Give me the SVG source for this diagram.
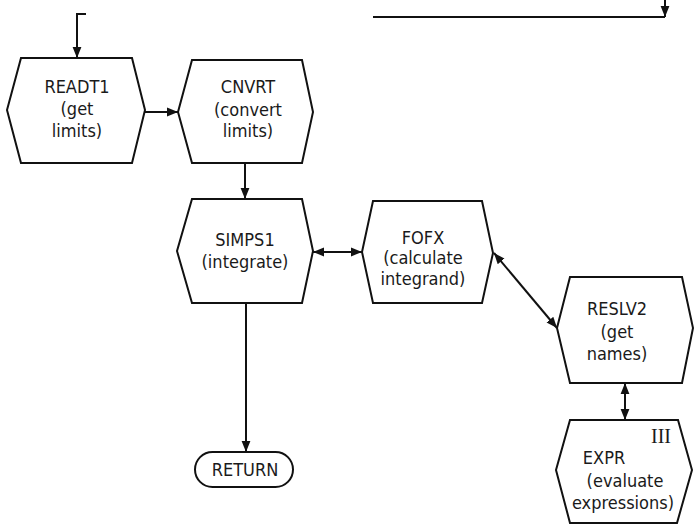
<svg xmlns="http://www.w3.org/2000/svg" width="696" height="526" viewBox="0 0 696 526">
<defs>
<marker id="ah" viewBox="0 0 10 10" refX="10" refY="5" markerWidth="5.5" markerHeight="5.5" orient="auto-start-reverse" markerUnits="strokeWidth">
<path d="M0,1 L10,5 L0,9 z" fill="#111"/>
</marker>
<style>
.n{fill:#fff;stroke:#111;stroke-width:2;stroke-linejoin:miter}
.t{font-family:"DejaVu Sans Condensed","DejaVu Sans",sans-serif;font-size:18px;fill:#1a1a1a;text-anchor:middle}
.r{font-family:"Liberation Serif",serif;font-size:20px;fill:#1a1a1a;text-anchor:middle}
.c{fill:none;stroke:#111;stroke-width:2}
.a{marker-end:url(#ah)}
.b{marker-start:url(#ah);marker-end:url(#ah)}
</style>
</defs>
<rect width="696" height="526" fill="#fff"/>
<g id="connectors">
<path class="c a" d="M86,14 L77,14 L77,58"/>
<path class="c" d="M373,17 L665,17"/>
<path class="c a" d="M665,0 L665,17"/>
<path class="c a" d="M145,112 L178,112"/>
<path class="c a" d="M245,163 L245,199"/>
<path class="c b" d="M313,252 L362,252"/>
<path class="c b" d="M494,253 L557,328"/>
<path class="c b" d="M625,383 L625,420"/>
<path class="c a" d="M246,303 L246,452"/>
</g>
<g id="READT1">
<polygon class="n" points="21,58 132,58 145,110 132,163 21,163 7,110"/>
<text class="t" x="77" y="93">READT1</text>
<text class="t" x="77" y="115">(get</text>
<text class="t" x="77" y="137">limits)</text>
</g>
<g id="CNVRT">
<polygon class="n" points="192,60 302,60 313,112 302,163 192,163 178,112"/>
<text class="t" x="248" y="93">CNVRT</text>
<text class="t" x="248" y="116">(convert</text>
<text class="t" x="248" y="137">limits)</text>
</g>
<g id="SIMPS1">
<polygon class="n" points="192,199 302,199 313,251 302,303 192,303 177,251"/>
<text class="t" x="245" y="246">SIMPS1</text>
<text class="t" x="245" y="268">(integrate)</text>
</g>
<g id="FOFX">
<polygon class="n" points="373,201 482,201 493,253 482,303 373,303 362,252"/>
<text class="t" x="423" y="244">FOFX</text>
<text class="t" x="423" y="264">(calculate</text>
<text class="t" x="423" y="285">integrand)</text>
</g>
<g id="RESLV2">
<polygon class="n" points="570,277 682,277 693,328 682,383 570,383 557,328"/>
<text class="t" x="617" y="315">RESLV2</text>
<text class="t" x="617" y="338">(get</text>
<text class="t" x="617" y="360">names)</text>
</g>
<g id="EXPR">
<polygon class="n" points="570,420 678,420 692,470 677,523 570,523 556,470"/>
<text class="r" x="661" y="443">III</text>
<text class="t" x="604" y="464">EXPR</text>
<text class="t" x="625" y="487">(evaluate</text>
<text class="t" x="623" y="509">expressions)</text>
</g>
<g id="RETURN">
<rect class="n" x="195" y="452" width="98" height="35" rx="17.5" ry="17.5"/>
<text class="t" x="245" y="476">RETURN</text>
</g>
</svg>
